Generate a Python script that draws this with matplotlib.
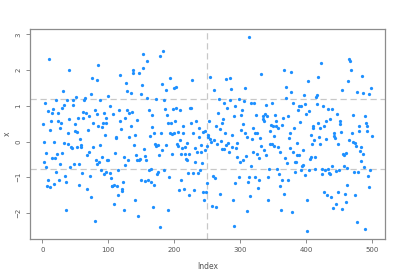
import numpy as np
import matplotlib
matplotlib.use("Agg")
import matplotlib.pyplot as plt

# values (index, x)
index = [1, 2, 3, 4, 5, 6, 7, 9, 9, 10, 11, 12, 13, 14, 15, 16, 17, 18, 19, 20,
         21, 22, 23, 24, 25, 26, 27, 28, 29, 30, 31, 32, 33, 34, 35, 36, 37, 38, 39, 40,
         41, 42, 44, 45, 46, 47, 48, 49, 50, 51, 52, 53, 54, 55, 56, 57, 58, 59, 60, 61,
         62, 63, 65, 66, 67, 68, 69, 70, 71, 72, 73, 74, 75, 76, 77, 79, 80, 81, 82, 82,
         83, 84, 85, 86, 87, 88, 89, 90, 91, 92, 93, 94, 95, 96, 97, 97, 98, 99, 100, 102,
         102, 104, 105, 106, 107, 108, 109, 110, 111, 112, 113, 114, 115, 116, 117, 118, 119, 120, 121, 122,
         123, 124, 125, 126, 127, 128, 129, 130, 131, 132, 134, 135, 136, 137, 138, 139, 140, 141, 142, 143,
         144, 145, 146, 147, 148, 149, 150, 151, 152, 153, 154, 155, 156, 157, 158, 159, 160, 161, 162, 163,
         164, 165, 166, 167, 168, 169, 170, 171, 172, 173, 174, 175, 176, 177, 178, 179, 180, 181, 182, 183,
         184, 185, 186, 187, 188, 189, 190, 191, 192, 193, 194, 195, 196, 197, 198, 199, 200, 201, 202, 203,
         204, 205, 206, 207, 208, 209, 210, 211, 212, 213, 214, 215, 216, 217, 218, 219, 220, 221, 222, 223,
         224, 225, 226, 227, 228, 229, 230, 231, 232, 233, 235, 236, 237, 238, 239, 240, 241, 242, 243, 244,
         245, 246, 247, 248, 249, 250, 251, 252,
         253, 254, 255, 256, 258, 259, 260, 261, 262, 263, 264, 265, 266, 268, 269, 270, 271, 272, 273, 274,
         275, 276, 277, 278, 279, 280, 282, 283, 284, 285, 286, 287, 288, 289, 290, 291, 292, 293, 294, 295,
         296, 298, 299, 300, 301, 302, 303, 304, 305, 306, 307, 308, 309, 310, 311, 312, 313, 314, 315, 316,
         317, 318, 319, 320, 321, 322, 323, 324, 325, 326, 327, 328, 329, 330, 331, 332, 334, 335, 336, 337,
         338, 339, 340, 341, 342, 343, 344, 345, 346, 347, 348, 349, 350, 351, 352, 353, 354, 355, 356, 357,
         358, 359, 360, 361, 362, 363, 364, 365, 366, 367, 368, 369, 370, 371, 372, 373, 374, 375, 376, 377,
         378, 379, 380, 381, 382, 383, 384, 385, 386, 387, 388, 389, 390, 391, 392, 393, 394, 395, 396, 397,
         398, 399, 400, 401, 402, 403, 404, 405, 406, 407, 408, 409, 410, 411, 412, 413, 414, 415, 416, 417,
         418, 419, 420, 421, 422, 423, 424, 425, 426, 427, 428, 429, 430, 431, 432, 433, 434, 435, 436, 437,
         438, 439, 440, 441, 442, 443, 444, 445, 446, 447, 448, 449, 450, 451, 452, 453, 454, 455, 456, 457,
         458, 459, 460, 461, 462, 463, 464, 465, 466, 467, 468, 470, 471, 472, 473, 474, 475, 476, 477, 478,
         479, 480, 481, 482, 483, 484, 485, 486, 487, 488, 489, 490, 491, 492, 493, 494, 495, 496, 497, 498,
         500]
x = [0.48, -0.56, 0.0, 1.07, -0.72, -0.32, -1.24, -1.09, 0.86, 2.32, 0.32, -1.26, 0.56, -0.45, 0.81, 0.9, -1.19, 0.0, -0.45, 1.15,
     -0.84, -0.34, 0.79, 0.56, -1.09, -0.62, 0.37, 0.51, -0.32, 0.95, 1.4, 1.01, -0.04, -0.97, -1.92, -1.14, 1.15, -0.08, 0.25, 0.64,
     2.0, -0.72, -0.15, -0.18, 1.15, 1.03, -0.62, 0.5, 0.29, 1.25, -0.15, 0.27, 0.65, -0.64, -1.21, 0.08, -0.1, -0.15, -0.89, 0.65,
     0.82, 1.15, 1.23, 0.79, -1.33, -0.39, 0.32, 0.7, -0.29, -0.97, 1.34, -1.54, 1.79, -0.15, 0.51, -2.23, 0.89, -0.51, 1.72, 0.76,
     -0.64, 2.15, 0.42, -0.58, 1.15, -0.1, -0.81, -0.43, 0.4, 0.53, -0.91, 0.81, 0.19, -0.86, 0.51, 0.65, -0.51, -0.51, 1.26, 1.0,
     -0.88, -1.02, -1.25, -1.24, 0.77, -1.22, -1.74, -0.33, 0.13, 0.11, -1.25, -1.5, -0.81, 0.87, 1.85, 0.58, 0.35, -1.38, -1.33, -1.14,
     -0.42, -1.92, -0.67, 0.67, 1.64, 1.4, 0.87, -0.53, 0.13, 0.79, 0.42, 1.37, 0.83, 1.99, 1.91, -0.11, -1.64, 0.18, -0.39, -0.51,
     0.6, -2.09, -0.53, 1.91, -0.48, -1.09, 1.33, 1.58, 2.05, 2.46, -0.2, -1.11, -0.4, -0.53, 2.26, 1.22, -1.08, -0.79, 0.89, 0.16,
     -1.14, -0.76, 0.74, 0.4, -1.84, -1.22, 0.23, -0.08, 1.19, -0.12, -0.91, -0.86, -0.1, -0.39, 2.4, -2.4, 0.25, 1.6, -0.25, 2.52,
     1.17, -0.79, 0.92, 1.45, -0.11, 0.73, 0.53, -1.92, -1.0, 0.25, 1.79, 0.51, -0.34, 0.2, 0.9, 1.5, 0.25, 0.56, 1.53, 0.95,
     -0.06, 0.27, -0.13, -1.35, 0.04, 0.89, -1.08, -0.36, -0.18, 0.25, 0.42, -1.33, -0.15, -0.34, -0.48, -0.53, -0.03, -0.89, -0.34, -1.5,
     0.93, 0.93, 0.53, 1.72, -0.89, 0.24, -1.35, -0.19, -0.58, 0.56, -0.28, -0.89, 0.39, 0.13, -0.79, -0.29, -0.11, -0.6, -1.42, 0.27,
     -1.63, -0.23, 0.3, -1.42, -0.13, -1.15, 0.18, 0.13,
     0.58, 0.06, 1.81, 0.0, -1.8, -0.97, 1.43, 0.04, -1.02, 0.42, -1.83, -0.08, 0.79, 1.2, 0.36, -1.47, 0.02, -0.2, 0.51, 0.63,
     1.08, -0.2, 0.25, 1.74, -0.1, 0.95, -0.03, -0.29, 1.15, 1.79, 1.47, -0.15, 0.18, -1.63, 0.72, -2.37, 1.0, -1.15, -0.17, -0.43,
     -0.04, 1.2, -0.98, -0.56, 0.75, 0.32, 0.87, 0.49, -0.51, 1.14, 0.23, 1.51, -0.41, -1.94, 0.13, -1.14, 2.93, -0.98, -1.52, -0.69,
     1.09, 0.08, 0.39, -0.29, 1.08, -1.0, 0.23, 0.75, 0.23, -0.34, -1.3, -0.45, -1.09, 0.11, 1.88, -0.12, 0.64, 0.72, 0.58, -0.25,
     0.77, 1.03, -0.39, 0.7, -0.98, -1.63, -0.76, -0.06, 0.3, 0.46, -0.08, 1.09, 0.44, -0.12, 0.15, 0.75, 0.43, 0.56, -0.76, -0.15,
     0.37, -0.91, -1.25, -0.29, -1.92, 0.46, -1.09, 0.65, 1.99, -1.47, -0.46, 1.53, 1.22, -0.6, -1.07, 0.7, 0.1, -0.18, 0.25, 1.38,
     1.95, -1.97, 1.08, -0.29, 0.38, -0.57, -0.86, -0.57, -0.04, -0.37, 0.89, -0.37, 1.0, 0.54, -0.81, 0.98, -0.69, -0.23, -0.65, 1.31,
     1.05, -0.95, 0.76, -1.64, -2.51, 1.69, 0.84, -0.81, -0.48, 0.18, -0.43, -0.08, 0.43, 0.37, 0.04, -0.43, -0.77, 1.25, 1.31, 1.05,
     0.53, 1.81, 0.13, 0.37, -0.08, 2.19, -0.76, -0.91, 0.98, 0.42, -1.4, -0.79, 0.06, 0.56, -1.49, -0.76, 0.9, -0.89, -0.92, 0.63,
     -1.55, -0.69, 0.9, -1.85, 0.15, 0.25, 0.1, -1.74, -0.83, 0.77, -1.41, -0.06, -0.79, 0.56, 0.49, 0.27, -1.9, 1.45, -0.36, -0.39,
     -0.69, -1.46, -1.69, -0.32, -1.21, -0.74, 1.68, 0.04, 2.3, 2.25, 2.0, 0.23, 0.74, -0.01, -0.86, -1.49, -0.04, -0.12, 1.39, -2.25,
     -0.86, 0.29, 0.43, -0.26, -0.55, -0.15, 1.83, -0.34, 1.36, -0.7, 0.7, -2.46, 0.51, 0.43, 0.3, -0.97, -1.28, 1.33, -0.79, 1.49,
     0.15]

# reference lines
vline_at = 250
hlines_at = [1.19, -0.78]

point_color = "#1E90FF"
ref_color = "#C8C8C8"
axis_color = "#8C8C8C"
text_color = "#555555"

fig = plt.figure(figsize=(4.0, 2.76), dpi=100)
ax = fig.add_axes([0.075, 0.134, 0.8875, 0.761])

ax.scatter(index, x, s=5.5, color=point_color, linewidths=0, zorder=3)

ax.axvline(vline_at, color=ref_color, linestyle=(0, (5, 3)), linewidth=0.9, zorder=1)
for h in hlines_at:
    ax.axhline(h, color=ref_color, linestyle=(0, (5, 3)), linewidth=0.9, zorder=1)

# R-style 4% axis extension
xmin, xmax = 1, 500
ymin, ymax = min(x), max(x)
dx = (xmax - xmin) * 0.04
dy = (ymax - ymin) * 0.04
ax.set_xlim(xmin - dx, xmax + dx)
ax.set_ylim(ymin - dy, ymax + dy)

ax.set_xticks([0, 100, 200, 300, 400, 500])
ax.set_yticks([-2, -1, 0, 1, 2, 3])
ax.tick_params(axis="both", direction="out", length=3, width=0.7, colors=axis_color,
               labelcolor=text_color, labelsize=5, pad=3)
for lab in ax.get_yticklabels():
    lab.set_rotation(90)
    lab.set_va("center")

for sp in ax.spines.values():
    sp.set_color(axis_color)
    sp.set_linewidth(0.9)

ax.set_xlabel("Index", fontsize=5.5, color=text_color, labelpad=6)
ax.set_ylabel("x", fontsize=5.5, color=text_color, labelpad=3)

fig.savefig("out.png", dpi=100)
